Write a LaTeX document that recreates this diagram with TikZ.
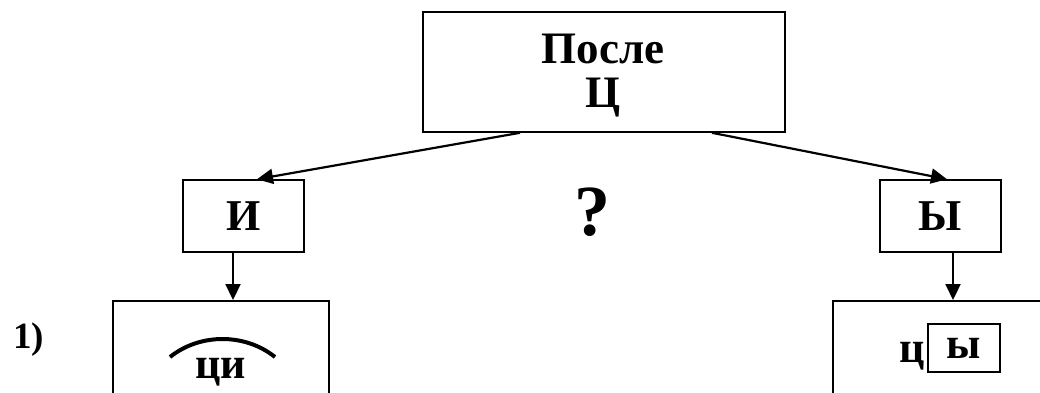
\documentclass[tikz,border=0pt]{standalone}
\usepackage{fontspec}
\setmainfont{Liberation Serif}
\usetikzlibrary{arrows.meta}
\begin{document}
\begin{tikzpicture}[x=1pt,y=-1pt,
  box/.style={draw, line width=1.6pt, inner sep=0pt, font=\bfseries\fontsize{44}{44}\selectfont},
  lbl/.style={inner sep=0pt, anchor=base, font=\bfseries\fontsize{44}{44}\selectfont},
  conn/.style={line width=2.2pt, -{Triangle[length=16pt,width=15pt]}}]
\useasboundingbox (0,0) rectangle (1040,392);
\clip (0,0) rectangle (1040,392);
\node[box, minimum width=362pt, minimum height=120pt] (top) at (604,72) {};
\node[lbl, font=\bfseries\fontsize{45}{45}\selectfont] (t1) at (603,63) {После};
\node[lbl, font=\bfseries\fontsize{45}{45}\selectfont] (t2) at (603,107) {Ц};
\node[box, minimum width=121pt, minimum height=72pt] (i) at (243.5,216) {И};
\node[box, minimum width=121pt, minimum height=72pt] (y) at (940.5,216) {Ы};
\node[lbl, font=\bfseries\fontsize{72}{72}\selectfont] (q) at (592,235) {?};
\node[draw, line width=1.6pt, minimum width=216pt, minimum height=140pt, anchor=north west] (bl) at (112,300) {};
\node[draw, line width=1.6pt, minimum width=230pt, minimum height=140pt, anchor=north west] (br) at (832,300) {};
\node[lbl, font=\bfseries\fontsize{37}{37}\selectfont, anchor=base west] (n1) at (13,348) {1)};
\node[lbl] (ci) at (221,378) {ци};
\draw[line width=4pt] (170,357) .. controls (200,333) and (245,333) .. (275,357);
\node[box, minimum width=72pt, minimum height=48pt] (sy) at (964,348) {ы};
\node[lbl, anchor=base east] (tsy) at (925,362) {ц};
\draw[conn] ([xshift=-84pt]top.south) -- ([xshift=13.5pt]i.north);
\draw[conn] ([xshift=108pt]top.south) -- ([xshift=6.5pt]y.north);
\draw[conn] ([xshift=-10.5pt]i.south) -- ([xshift=-10.5pt]i.south |- bl.north);
\draw[conn] ([xshift=12.5pt]y.south) -- ([xshift=12.5pt]y.south |- br.north);
\end{tikzpicture}
\end{document}
